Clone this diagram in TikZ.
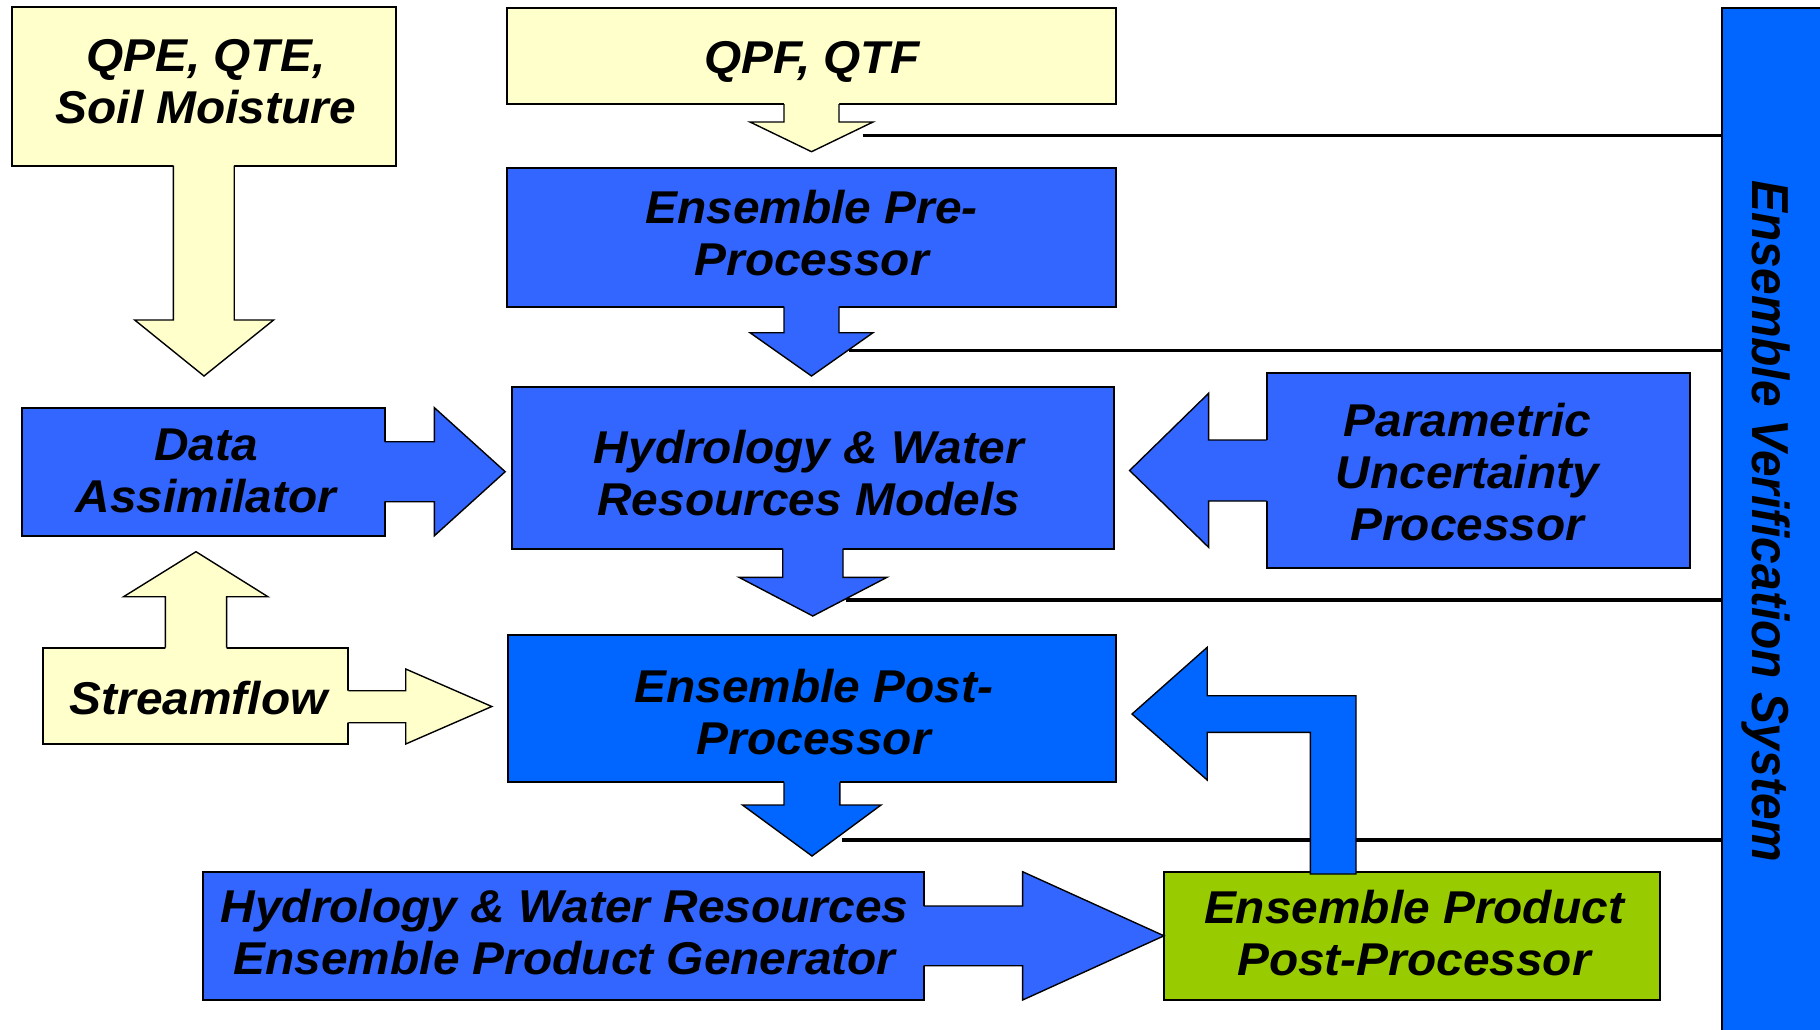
\documentclass[tikz,border=0pt]{standalone}
\usepackage{fontspec}
\setmainfont{Liberation Sans}[FakeStretch=1.04]
\newfontfamily\vertfont{Liberation Sans}[FakeStretch=0.92]
\definecolor{yel}{HTML}{FFFFCC}
\definecolor{blueA}{HTML}{3366FF}
\definecolor{blueB}{HTML}{0066FF}
\definecolor{grn}{HTML}{99CC00}
\newcommand\blockarr[3]{\fill[#1] #2; \draw[aline] #3;}
\begin{document}
\begin{tikzpicture}[x=0.5pt,y=-0.5pt,
  txt/.style={align=center, inner sep=0pt, font=\fontsize{23}{26}\selectfont\bfseries\itshape},
  bx/.style 2 args={draw=black, line width=1pt, inner sep=0pt, minimum width=#1*0.5pt, minimum height=#2*0.5pt},
  aline/.style={draw=black, line width=0.7pt, line join=miter},
  vline/.style={draw=black, line width=1.7pt}]
\useasboundingbox (0,0) rectangle (1820,1029);
\clip (0,0) rectangle (1820,1029);

% lines to the verification system
\coordinate (vx) at (1721.4,0);
\coordinate (l1) at (862.5,135.7);
\coordinate (l2) at (849,350.7);
\coordinate (l3) at (846,600);
\coordinate (l4) at (842,840);
\draw[vline] (l1) -- (vx |- l1);
\draw[vline] (l2) -- (vx |- l2);
\draw[vline] (l3) -- (vx |- l3);
\draw[vline] (l4) -- (vx |- l4);

% boxes
\node[bx={384.5}{158.4}, fill=yel] (qpe) at (203.75,86.5) {};
\node[bx={608.7}{96}, fill=yel] (qpf) at (811.65,56) {};
\node[bx={608.7}{139}, fill=blueA] (pre) at (811.65,237.2) {};
\node[bx={602.5}{161.9}, fill=blueA] (hyd) at (812.75,467.55) {};
\node[bx={608.3}{147.3}, fill=blueB] (post) at (811.85,708.65) {};
\node[bx={362.4}{128}, fill=blueA] (da) at (203.4,471.7) {};
\node[bx={305.1}{96.3}, fill=yel] (sf) at (195.75,695.85) {};
\node[bx={423.4}{195}, fill=blueA] (par) at (1478.3,470.2) {};
\node[bx={720.4}{128.3}, fill=blueA] (gen) at (563.6,935.85) {};
\node[bx={496}{128.3}, fill=grn] (epp) at (1412,935.85) {};

% texts
\node[txt] (qpet) at ([shift={(2,-5)}]qpe.center) {QPE, QTE,\\Soil Moisture};
\node[txt, text depth=0pt] (qpft) at ([shift={(0,1.2)}]qpf.center) {QPF, QTF};
\node[txt] (pret) at ([shift={(0,-3.7)}]pre.center) {Ensemble Pre-\\Processor};
\node[txt] (hydt) at ([shift={(-4,5.3)}]hyd.center) {Hydrology \& Water\\Resources Models};
\node[txt] (postt) at ([shift={(2,3.3)}]post.center) {Ensemble Post-\\Processor};
\node[txt] (dat) at ([shift={(2.6,-1)}]da.center) {Data\\Assimilator};
\node[txt, text depth=0pt] (sft) at ([shift={(3,1.6)}]sf.center) {Streamflow};
\node[txt] (part) at ([shift={(-11,2)}]par.center) {Parametric\\Uncertainty\\Processor};
\node[txt] (gent) at ([shift={(1,-3.5)}]gen.center) {Hydrology \& Water Resources\\Ensemble Product Generator};
\node[txt] (eppt) at ([shift={(2,-2.8)}]epp.center) {Ensemble Product\\Post-Processor};

% block arrows
\blockarr{yel}{(173.4,163) -- (173.4,320) -- (134.7,320) -- (204,376) -- (273.6,320) -- (234.2,320) -- (234.2,163) -- cycle}
 {(173.4,165.7) -- (173.4,320) -- (134.7,320) -- (204,376) -- (273.6,320) -- (234.2,320) -- (234.2,165.7)}
\blockarr{yel}{(784,101.5) -- (784,122) -- (750,122) -- (811.5,151.7) -- (873,122) -- (839,122) -- (839,101.5) -- cycle}
 {(784,104) -- (784,122) -- (750,122) -- (811.5,151.7) -- (873,122) -- (839,122) -- (839,104)}
\blockarr{blueA}{(784,304) -- (784,332.7) -- (750,332.7) -- (811.5,376) -- (873,332.7) -- (839,332.7) -- (839,304) -- cycle}
 {(784,306.7) -- (784,332.7) -- (750,332.7) -- (811.5,376) -- (873,332.7) -- (839,332.7) -- (839,306.7)}
\blockarr{blueA}{(782.7,546) -- (782.7,577.3) -- (739,577.3) -- (812.8,616) -- (887,577.3) -- (843,577.3) -- (843,546) -- cycle}
 {(782.7,548.5) -- (782.7,577.3) -- (739,577.3) -- (812.8,616) -- (887,577.3) -- (843,577.3) -- (843,548.5)}
\blockarr{blueB}{(784,780) -- (784,805) -- (742.5,805) -- (812,856) -- (881,805) -- (839.8,805) -- (839.8,780) -- cycle}
 {(784,782.3) -- (784,805) -- (742.5,805) -- (812,856) -- (881,805) -- (839.8,805) -- (839.8,782.3)}
\blockarr{blueA}{(382,441.7) -- (434.4,441.7) -- (434.4,407.7) -- (505.2,471.7) -- (434.4,535.7) -- (434.4,501.7) -- (382,501.7) -- cycle}
 {(384.6,441.7) -- (434.4,441.7) -- (434.4,407.7) -- (505.2,471.7) -- (434.4,535.7) -- (434.4,501.7) -- (384.6,501.7)}
\blockarr{blueA}{(1269,440) -- (1208.6,440) -- (1208.6,393.3) -- (1129.6,470.5) -- (1208.6,547.3) -- (1208.6,501) -- (1269,501) -- cycle}
 {(1266.6,440) -- (1208.6,440) -- (1208.6,393.3) -- (1129.6,470.5) -- (1208.6,547.3) -- (1208.6,501) -- (1266.6,501)}
\blockarr{yel}{(165.3,650) -- (165.3,596.7) -- (123.6,596.7) -- (196,551.7) -- (267.9,596.7) -- (226.6,596.7) -- (226.6,650) -- cycle}
 {(165.3,647.7) -- (165.3,596.7) -- (123.6,596.7) -- (196,551.7) -- (267.9,596.7) -- (226.6,596.7) -- (226.6,647.7)}
\blockarr{yel}{(346,690.7) -- (405.7,690.7) -- (405.7,669) -- (491.8,706.5) -- (405.7,744) -- (405.7,722.7) -- (346,722.7) -- cycle}
 {(348.3,690.7) -- (405.7,690.7) -- (405.7,669) -- (491.8,706.5) -- (405.7,744) -- (405.7,722.7) -- (348.3,722.7)}
\blockarr{blueA}{(921,906) -- (1022.6,906) -- (1022.6,871.7) -- (1164,935.8) -- (1022.6,1000) -- (1022.6,965.7) -- (921,965.7) -- cycle}
 {(923.8,906) -- (1022.6,906) -- (1022.6,871.7) -- (1164,935.8) -- (1022.6,1000) -- (1022.6,965.7) -- (923.8,965.7)}
\filldraw[fill=blueB, aline] (1310.3,874) -- (1310.3,732.3) -- (1207.2,732.3) -- (1207.2,780) -- (1132,714) -- (1207.2,647.3) -- (1207.2,695.7) -- (1356,695.7) -- (1356,874) -- cycle;

% verification bar
\node[draw=black, fill=blueB, line width=1pt, anchor=north west, minimum width=60pt, minimum height=530pt, inner sep=0pt] (ver) at (1721.4,7.3) {};
\node[inner sep=0pt, rotate=-90, anchor=base, font=\vertfont\fontsize{26}{30}\selectfont\bfseries\itshape] (vtxt) at (1752,521.5) {Ensemble Verification System};
\end{tikzpicture}
\end{document}
